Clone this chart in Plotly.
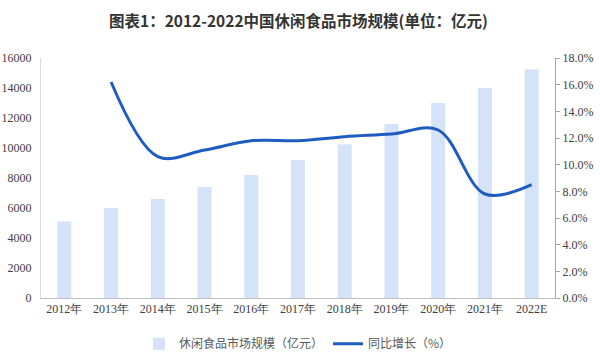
import plotly.graph_objects as go

categories = ["2012年", "2013年", "2014年", "2015年", "2016年", "2017年", "2018年", "2019年", "2020年", "2021年", "2022E"]
market_size = [5100, 6000, 6600, 7400, 8200, 9200, 10250, 11600, 13000, 14000, 15250]
growth_pct = [None, 16.2, 10.6, 11.1, 11.8, 11.8, 12.1, 12.3, 12.6, 7.8, 8.5]

fig = go.Figure()
fig.add_trace(go.Bar(
    x=categories, y=market_size, name="休闲食品市场规模（亿元）",
    marker=dict(color="#d5e3f8", line=dict(width=0)), width=0.3, yaxis="y"))
fig.add_trace(go.Scatter(
    x=categories, y=growth_pct, name="同比增长（%）", mode="lines",
    line=dict(color="#1f5cbf", width=3, shape="spline", smoothing=1.0),
    connectgaps=False, yaxis="y2"))

tick_font = dict(family="Liberation Serif, Times New Roman, serif", size=12, color="#404040")
fig.update_layout(
    width=600, height=356,
    margin=dict(l=41, r=45, t=58, b=58, autoexpand=False),
    paper_bgcolor="white", plot_bgcolor="white",
    xaxis=dict(showgrid=False, showline=True, linecolor="#bfbfbf", linewidth=1,
               tickfont=tick_font, ticks="", automargin=False),
    yaxis=dict(range=[0, 16000], dtick=2000, showgrid=False, showline=True,
               linecolor="#d9d9d9", tickfont=tick_font, ticks="", tickformat="d",
               automargin=False, ticklabelstandoff=6),
    yaxis2=dict(range=[0, 18], dtick=2, overlaying="y", side="right", showgrid=False,
                showline=True, linecolor="#a6a6a6", ticks="outside", ticklen=4,
                tickcolor="#a6a6a6", tickfont=tick_font, automargin=False,
                tickvals=[0, 2, 4, 6, 8, 10, 12, 14, 16, 18],
                ticktext=["0.0%", "2.0%", "4.0%", "6.0%", "8.0%", "10.0%", "12.0%", "14.0%", "16.0%", "18.0%"]),
    legend=dict(orientation="h", x=0.5, xanchor="center", y=-0.13, yanchor="top",
                font=dict(family="Noto Sans CJK SC", size=12, color="#595959")),
    showlegend=True,
    annotations=[dict(text="<b>图表1：2012-2022中国休闲食品市场规模(单位：亿元)</b>",
                      xref="paper", yref="paper", x=0.5, y=1 + 38 / 240,
                      xanchor="center", yanchor="middle", showarrow=False,
                      font=dict(family="Noto Sans CJK SC", size=15.5, color="#333333"))],
)
fig.write_html("out.html", config={"displayModeBar": False},
               post_script="document.body.style.margin='0';document.body.style.overflow='hidden';")
